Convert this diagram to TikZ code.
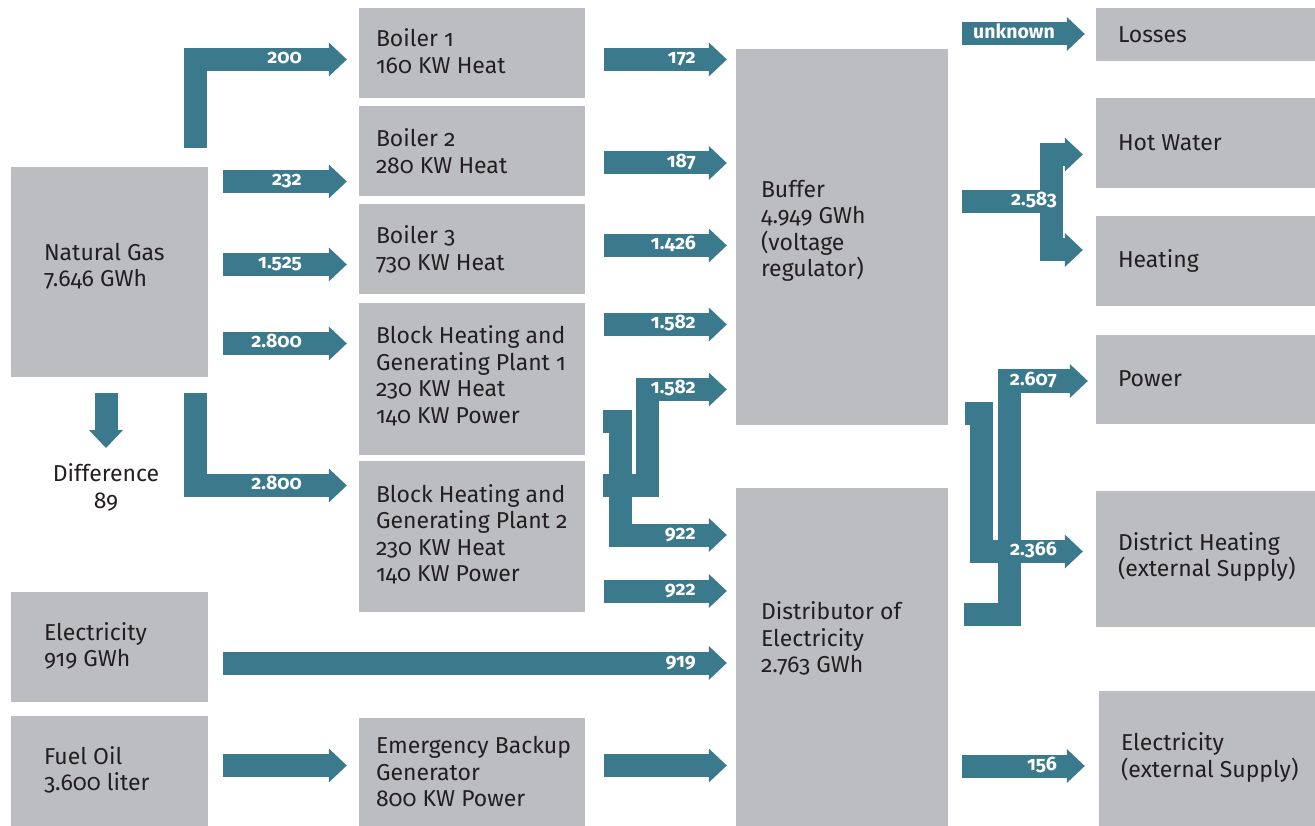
\documentclass[tikz,border=0pt]{standalone}
\usepackage{fontspec}
\setmainfont{Fira Sans}[Numbers=OldStyle]
\usetikzlibrary{arrows.meta,positioning}
\definecolor{boxgray}{RGB}{188,189,193}
\definecolor{flowteal}{RGB}{59,121,140}
\definecolor{txtdark}{RGB}{35,31,32}

\begin{document}
\begin{tikzpicture}[x=1pt,y=-1pt,
  box/.style={fill=boxgray, inner sep=0, minimum width=#1}, box/.default=226pt,
  txt/.style={inner sep=0, align=left, text=txtdark, font=\fontsize{23}{26.5}\selectfont},
  flow/.style={draw, color=flowteal, line width=23pt, shorten >=#1,
    -{Triangle[width=34pt,length=18pt,line width=0pt]}}, flow/.default=12pt,
  flowbar/.style={draw, color=flowteal, line width=23pt},
  flowlbl/.style={inner sep=0, anchor=mid east, yshift=-1.5pt, text=white,
    font=\bfseries\fontsize{19.5}{21}\selectfont}]
  \useasboundingbox (0,0) rectangle (1315,826);

  % boxes
  \node[box=197pt, minimum height=210pt] (ng) at (109.5,272) {};
  \node[box=197pt, minimum height=110pt] (elec) at (109.5,647) {};
  \node[box=197pt, minimum height=110pt] (oil) at (109.5,771) {};
  \node[box, minimum height=90pt] (b1) at (472,53) {};
  \node[box, minimum height=90pt] (b2) at (472,151) {};
  \node[box, minimum height=90pt] (b3) at (472,249.5) {};
  \node[box, minimum height=152pt] (bhgp1) at (472,379) {};
  \node[box, minimum height=151pt] (bhgp2) at (472,536.5) {};
  \node[box, minimum height=108pt] (emerg) at (472,772) {};
  \node[box=212pt, minimum height=376pt] (buffer) at (842,237) {};
  \node[box=212pt, minimum height=338pt] (dist) at (842,657) {};
  \node[box=219pt, minimum height=53pt] (losses) at (1205.5,34.5) {};
  \node[box=219pt, minimum height=90pt] (hot) at (1205.5,143) {};
  \node[box=219pt, minimum height=90pt] (heat) at (1205.5,261) {};
  \node[box=219pt, minimum height=89pt] (power) at (1205.5,379.5) {};
  \node[box=219pt, minimum height=136pt] (dh) at (1205.5,559) {};
  \node[box=216pt, minimum height=135pt] (eext) at (1207,758.5) {};

  % box texts
  \foreach \n/\pad/\up/\t in {ng/33/6/{Natural Gas\\7.646 GWh}, elec/33/1/{Electricity\\919 GWh},
      oil/33/1/{Fuel Oil\\3.600 liter}, b1/17/2/{Boiler 1\\160 KW Heat}, b2/17/0/{Boiler 2\\280 KW Heat},
      b3/17/0/{Boiler 3\\730 KW Heat},
      bhgp1/17/3/{Block Heating and\\Generating Plant 1\\230 KW Heat\\140 KW Power},
      bhgp2/17/2/{Block Heating and\\Generating Plant 2\\230 KW Heat\\140 KW Power},
      emerg/17/0/{Emergency Backup\\Generator\\800 KW Power},
      buffer/25/6/{Buffer\\4.949 GWh\\(voltage\\regulator)}, losses/22/0/{Losses},
      hot/22/0/{Hot Water}, heat/22/0/{Heating}, power/22/1/{Power},
      dh/22/2/{District Heating\\(external Supply)}, eext/22/1/{Electricity\\(external Supply)}}
    \node[txt, right=\pad pt of \n.west, yshift=\up pt] (\n-t) {\t};
  \node[txt, anchor=north west] (dist-t) at ([xshift=25pt,yshift=-114pt]dist.north west)
    {Distributor of\\Electricity\\2.763 GWh};
  \node[txt, align=center] (diff) at (106,487.5) {Difference\\89};

  % natural gas, oil and electricity in
  \draw[flow] (195.5,148) |- (b1.west |- 0,59.5);
  \draw[flow, shorten <=15pt] (ng.east |- 0,181.5) -- (b2.west |- 0,181.5);
  \draw[flow, shorten <=15pt] (ng.east |- 0,264.5) -- (b3.west |- 0,264.5);
  \draw[flow, shorten <=15pt] (ng.east |- 0,343.5) -- (bhgp1.west |- 0,343.5);
  \draw[flow] (195.5,393) |- (bhgp2.west |- 0,485.5);
  \draw[flow=0pt] (diff.north |- 0,393) -- (diff.north |- 0,448);
  \draw[flow, shorten <=15pt] (oil.east |- 0,765.5) -- (emerg.west |- 0,765.5);
  \draw[flow=9pt, shorten <=15pt] (elec.east |- 0,663) -- (dist.west |- 0,663);

  % boilers and plants to buffer / distributor
  \foreach \y in {59.5,163,245.5,324.5}
    \draw[flow=9pt, shorten <=19pt] (b1.east |- 0,\y) -- (buffer.west |- 0,\y);
  \draw[flow=9pt] (647.5,497) |- (buffer.west |- 0,389.5);
  \draw[flow=9pt] (620.5,410) |- (dist.west |- 0,535);
  \draw[flowbar] (603,485.5) -- (659,485.5);
  \draw[flowbar] (603,421) -- (632,421);
  \draw[flow=9pt, shorten <=19pt] (bhgp2.east |- 0,591) -- (dist.west |- 0,591);
  \draw[flow=9pt, shorten <=19pt] (emerg.east |- 0,765.5) -- (dist.west |- 0,765.5);

  % outputs
  \draw[flow=11pt, shorten <=14pt] (buffer.east |- 0,34) -- (losses.west |- 0,34);
  \draw[flowbar, shorten <=14pt] (buffer.east |- 0,201.5) -- (1063,201.5);
  \draw[flow=13pt] (1051.5,201.5) |- (hot.west |- 0,154.5);
  \draw[flow=13pt] (1051.5,201.5) |- (heat.west |- 0,250);
  \draw[flow=8pt] (1009.5,626) |- (power.west |- 0,381);
  \draw[flowbar] (964,614.5) -- (1021,614.5);
  \draw[flow=13pt] (981.5,402) |- (dh.west |- 0,551.5);
  \draw[flowbar] (965,413.5) -- (993,413.5);
  \draw[flow=14pt, shorten <=14pt] (dist.east |- 0,766) -- (eext.west |- 0,766);

  % flow values
  \foreach \x/\y/\v [count=\i] in {302/59.5/200, 302/181.5/232, 302/264.5/1.525, 302/343.5/2.800,
      302/485.5/2.800, 696/59.5/172, 696/163/187, 696/245.5/1.426, 696/324.5/1.582,
      696/389.5/1.582, 696/535/922, 696/591/922, 696/663/919, 1055/34/unknown,
      1057/201.5/2.583, 1057/381/2.607, 1057/551.5/2.366, 1057/766/156}
    \node[flowlbl] (lbl\i) at (\x,\y) {\v};
\end{tikzpicture}
\end{document}
